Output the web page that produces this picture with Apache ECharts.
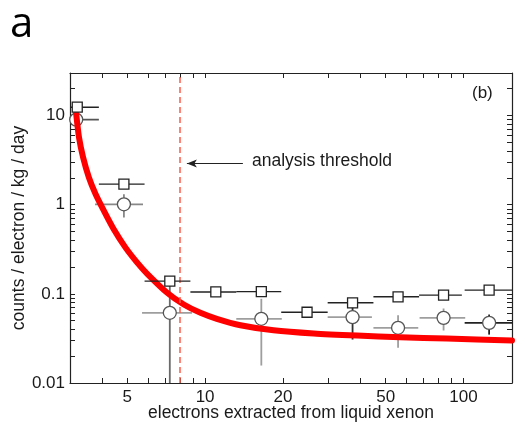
<!DOCTYPE html>
<html><head><meta charset="utf-8">
<script src="https://cdn.jsdelivr.net/npm/echarts@6/dist/echarts.min.js"></script>
<style>html,body{margin:0;padding:0;background:#fff}#c{width:525px;height:422px}</style>
</head><body><div id="c"></div>
<script>
// ---- data ----
const xLabelValues = [5, 10, 20, 50, 100];
const xTickValues = [4, 5, 6, 7, 8, 9, 10, 20, 30, 40, 50, 60, 70, 80, 90, 100];
const yLabelValues = [0.01, 0.1, 1, 10];
const yTickValues = [0.02, 0.03, 0.04, 0.05, 0.06, 0.07, 0.08, 0.09, 0.1,
  0.2, 0.3, 0.4, 0.5, 0.6, 0.7, 0.8, 0.9, 1, 2, 3, 4, 5, 6, 7, 8, 9, 10, 20];

const squareX     = [3.2, 4.85, 7.3, 11.0, 16.5, 24.8, 37.2, 55.8, 83.7, 125.6];
const squareY     = [12.4, 1.70, 0.139, 0.105, 0.106, 0.0622, 0.0794, 0.0927, 0.0967, 0.110];
const squareXLow  = [2.6, 3.88, 5.83, 8.77, 13.2, 19.7, 29.8, 44.8, 67.3, 101];
const squareXHigh = [3.88, 5.83, 8.77, 13.2, 19.7, 29.8, 44.8, 67.3, 98.5, 160];
const squareYLow  = [null, null, null, 0.098, null, 0.058, null, null, null, null];
const squareYHigh = [null, null, null, 0.113, null, 0.0665, null, null, null, null];

const circleX     = [3.17, 4.85, 7.3, 16.5, 37.2, 55.8, 83.7, 125.6];
const circleY     = [9.0, 1.01, 0.0613, 0.0525, 0.0547, 0.0416, 0.0538, 0.0473];
const circleXLow  = [2.6, 3.75, 5.7, 13.2, 29.8, 44.8, 67.6, 101];
const circleXHigh = [3.88, 5.75, 8.9, 19.8, 44.2, 66.8, 101.5, 160];
const circleYLow  = [null, 0.718, 0.001, 0.0157, 0.0307, 0.0248, 0.0388, 0.0349];
const circleYHigh = [null, 1.31, 0.13, 0.088, 0.075, 0.0575, 0.0685, 0.0586];

const curveX = [3.17, 3.25, 3.37, 3.55, 3.77, 4.06, 4.43, 4.92, 5.46, 5.97, 7.13, 8.27, 9.59, 11.1, 13.7, 18.4, 26.3, 38.7, 56.9, 86.1, 154];
const curveY = [10.5, 5.70, 3.40, 2.02, 1.31, 0.851, 0.530, 0.330, 0.224, 0.168, 0.103, 0.076, 0.0613, 0.0525, 0.0445, 0.0390, 0.0359, 0.0340, 0.0326, 0.0315, 0.0300];

const thresholdX = 8;
const arrowFrom = [14.0, 2.9];
const arrowTo = [8.5, 2.9];

// ---- styles (not data) ----
const circleBarColors = ['#555', '#888', '#6a6a6a', '#9e9e9e', '#333', '#9e9e9e', '#9e9e9e', '#222'];
const circleHBarColors = ['#555', '#888', '#9e9e9e', '#9e9e9e', '#9e9e9e', '#9e9e9e', '#9e9e9e', '#222'];

const FONT = 'Liberation Sans, Arial, sans-serif';

function rows(xs, ys, xl, xh, yl, yh) {
  return xs.map((x, i) => [x, ys[i], xl[i], xh[i], yl[i] == null ? NaN : yl[i], yh[i] == null ? NaN : yh[i]]);
}

function makeBars(hColors, vColors, width) {
  return function (params, api) {
    const x = api.value(0), y = api.value(1);
    const xl = api.value(2), xh = api.value(3), yl = api.value(4), yh = api.value(5);
    const hc = hColors ? hColors[params.dataIndex] : '#222';
    const vc = vColors ? vColors[params.dataIndex] : '#222';
    const children = [];
    const a = api.coord([xl, y]), b = api.coord([xh, y]);
    children.push({ type: 'line', shape: { x1: a[0], y1: a[1], x2: b[0], y2: b[1] },
      style: { stroke: hc, lineWidth: width } });
    if (!isNaN(yl) && !isNaN(yh)) {
      const c = api.coord([x, yl]), d = api.coord([x, yh]);
      children.push({ type: 'line', shape: { x1: c[0], y1: c[1], x2: d[0], y2: d[1] },
        style: { stroke: vc, lineWidth: width } });
    }
    return { type: 'group', children };
  };
}

const axisCommonX = {
  type: 'log', logBase: 10, min: 3, max: 154,
  axisLine: { show: true, onZero: false, lineStyle: { color: '#222', width: 1.2 } },
  axisTick: { show: true, inside: true, length: 5, customValues: xTickValues, lineStyle: { color: '#222', width: 1 } },
  splitLine: { show: false }, minorTick: { show: false }
};
const axisCommonY = {
  type: 'log', logBase: 10, min: 0.01, max: 30,
  axisLine: { show: true, onZero: false, lineStyle: { color: '#222', width: 1.2 } },
  axisTick: { show: true, inside: true, length: 5, customValues: yTickValues, lineStyle: { color: '#222', width: 1 } },
  splitLine: { show: false }, minorTick: { show: false }
};

const chart = echarts.init(document.getElementById('c'), null, { renderer: 'canvas' });
chart.setOption({
  animation: false,
  backgroundColor: '#fff',
  grid: { left: 70, right: 13, top: 73, bottom: 39, containLabel: false, outerBoundsMode: 'none' },
  xAxis: [
    Object.assign({}, axisCommonX, {
      position: 'bottom',
      name: 'electrons extracted from liquid xenon', nameLocation: 'middle', nameGap: 21, nameMoveOverlap: false,
      nameTextStyle: { fontFamily: FONT, fontSize: 17.5, color: '#1a1a1a' },
      axisLabel: { show: true, customValues: xLabelValues, margin: 6, fontFamily: FONT, fontSize: 17, color: '#1a1a1a',
        formatter: v => String(Math.round(v)) }
    }),
    Object.assign({}, axisCommonX, { position: 'top', axisLabel: { show: false } })
  ],
  yAxis: [
    Object.assign({}, axisCommonY, {
      position: 'left',
      name: 'counts / electron / kg / day', nameLocation: 'middle', nameGap: 42, nameRotate: 90, nameMoveOverlap: false,
      nameTextStyle: { fontFamily: FONT, fontSize: 17.5, color: '#1a1a1a' },
      axisLabel: { show: true, customValues: yLabelValues, margin: 5, fontFamily: FONT, fontSize: 17, color: '#1a1a1a',
        formatter: v => String(parseFloat(Number(v).toPrecision(6))) }
    }),
    Object.assign({}, axisCommonY, { position: 'right', axisLabel: { show: false } })
  ],
  series: [
    {
      type: 'custom', name: 'circleBars', xAxisIndex: 0, yAxisIndex: 0, clip: true, z: 2,
      renderItem: makeBars(circleHBarColors, circleBarColors, 1.8),
      encode: { x: 0, y: 1 },
      data: rows(circleX, circleY, circleXLow, circleXHigh, circleYLow, circleYHigh)
    },
    {
      type: 'scatter', name: 'circles', z: 3, symbol: 'circle', symbolSize: 13,
      itemStyle: { color: '#fff', borderColor: '#555', borderWidth: 1.3, opacity: 1 },
      data: circleX.map((x, i) => [x, circleY[i]])
    },
    {
      type: 'line', name: 'fit', z: 4, symbol: 'none', smooth: 0.25, clip: true,
      lineStyle: { color: '#ff0000', width: 6, cap: 'round', join: 'round' },
      data: curveX.map((x, i) => [x, curveY[i]]),
      markLine: {
        silent: true, animation: false, symbol: ['none', 'none'],
        label: { show: false },
        lineStyle: { color: '#ff5a48', type: [6, 4], width: 1.5 },
        data: [{ xAxis: thresholdX }]
      }
    },
    {
      type: 'line', name: 'arrow', z: 4, symbol: 'none', lineStyle: { opacity: 0 }, data: [],
      markLine: {
        silent: true, animation: false, symbol: ['none', 'arrow'], symbolSize: [6, 10],
        label: { show: false },
        lineStyle: { color: '#222', type: 'solid', width: 1.2 },
        data: [[{ coord: arrowFrom }, { coord: arrowTo }]]
      }
    },
    {
      type: 'custom', name: 'squareBars', clip: true, z: 5,
      renderItem: makeBars(null, null, 1.4),
      encode: { x: 0, y: 1 },
      data: rows(squareX, squareY, squareXLow, squareXHigh, squareYLow, squareYHigh)
    },
    {
      type: 'scatter', name: 'squares', z: 6, symbol: 'rect', symbolSize: 10,
      itemStyle: { color: '#fff', borderColor: '#222', borderWidth: 1.3, opacity: 1 },
      data: squareX.map((x, i) => [x, squareY[i]])
    }
  ],
  graphic: [
    { type: 'text', left: 10, top: 4, style: { text: 'a', fontFamily: 'Open Sans, sans-serif', fontSize: 42, fill: '#000' } },
    { type: 'text', left: 252, top: 152, style: { text: 'analysis threshold', fontFamily: FONT, fontSize: 17.5, fill: '#1a1a1a' } },
    { type: 'text', left: 472, top: 85, style: { text: '(b)', fontFamily: FONT, fontSize: 17, fill: '#1a1a1a' } }
  ]
});
</script></body></html>
